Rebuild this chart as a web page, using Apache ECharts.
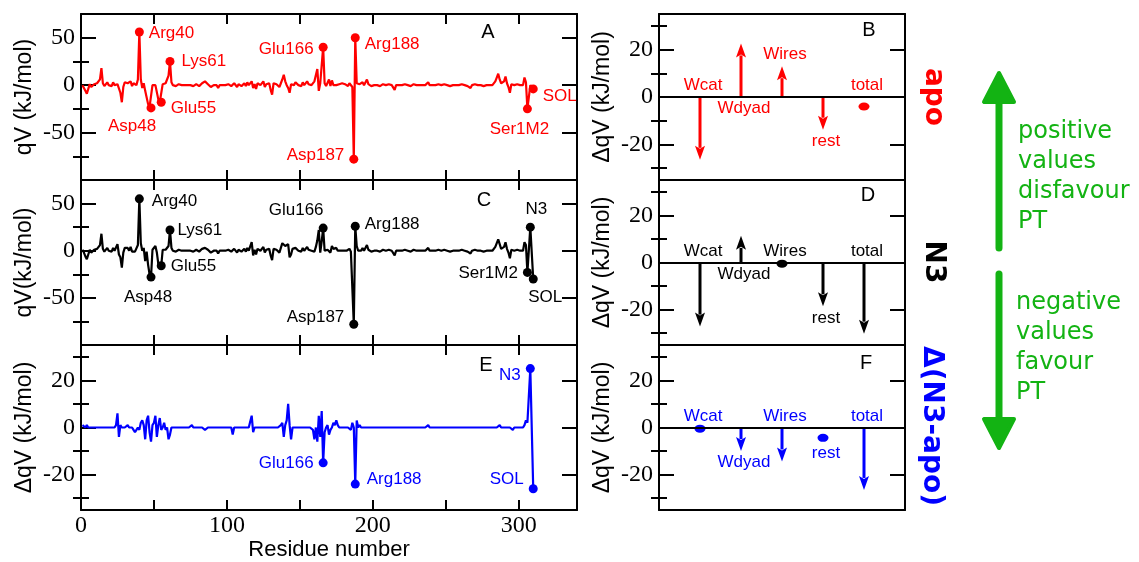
<!DOCTYPE html>
<html>
<head>
<meta charset="utf-8">
<script src="https://cdn.jsdelivr.net/npm/echarts@6/dist/echarts.min.js"></script>
<style>
html, body { margin: 0; padding: 0; background: #fff; }
#main { width: 1139px; height: 562px; }
</style>
</head>
<body>
<div id="main"></div>
<script>
// qV per residue (kJ/mol), residues 1..305 of chain A, then Ser1M2, N3, SOL
const extraResidues = [306, 308, 310];
const apoQV = [
  0,-3,-6,-9,-4,1,-2,0,1,0,  2,0,6,18,2,-1,1,3,0,2,  -1,3,0,-2,1,0,-8,-18,-2,3,
  1,2,0,4,-1,2,1,0,6,56,  6,-3,2,-6,-4,-20,-23,-24,0,1,  0,2,-15,-18,-18,1,0,2,1,10,
  25,3,0,1,-1,0,1,0,0,1,  0,-1,0,1,0,0,-1,0,1,0,  -1,0,2,1,4,3,1,0,-2,-1,
  0,1,0,-3,0,1,0,-1,0,0,  1,0,-1,0,2,0,-2,1,0,-1,  0,2,-1,3,0,-2,4,-3,1,-4,
  2,3,0,-1,4,-2,1,0,2,-5,  -10,2,0,1,3,-2,2,6,11,4,  0,-3,-8,1,2,0,3,1,0,2,
  -1,3,0,2,4,1,3,0,2,4,  4,17,-6,2,3,40,2,-1,0,6,  -1,5,0,2,0,-1,1,0,2,0,
  1,0,-1,2,0,-2,-78,50,2,0,  1,0,3,0,2,6,1,0,-1,0,  0,1,0,0,-1,0,1,0,0,0,
  1,0,0,-1,-5,0,1,0,0,0,  0,1,0,0,0,-1,0,1,0,0,  0,0,1,0,0,0,2,3,0,0,
  0,-1,0,0,1,0,0,0,1,0,  0,0,-1,0,0,1,0,0,0,2,  1,0,0,0,-1,0,-3,0,0,1,
  0,0,0,0,0,-1,-3,0,0,0,  1,0,2,4,8,12,6,2,0,4,  9,2,-2,-8,1,0,0,0,1,0,
  0,-1,0,8,3,
  -25, 0, -4
];
const n3QV = [
  1,-2,-6,-9,-4,1,-2,0,1,0,  2,0,6,18,2,-1,1,3,0,2,  -1,3,0,-1,7,-4,-7,-18,-2,3,
  1,3,0,4,-1,1,-1,-1,6,55,  8,0,3,-11,-1,-15,-25,-28,1,3,  5,-2,-14,-14,-16,1,2,1,1,5,
  22,3,0,1,-1,0,1,0,0,1,  0,-1,0,1,0,1,-1,0,1,0,  -1,0,2,1,3,2,1,0,-2,-1,
  0,1,0,-3,0,1,0,-1,0,0,  1,0,-1,-3,2,0,-2,1,0,-1,  0,2,-1,3,0,-2,9,-5,1,-4,
  2,3,0,-1,4,-2,1,0,2,-5,  -10,2,0,1,3,-2,3,8,7,5,  3,7,-7,-4,2,0,3,1,0,2,
  -1,3,0,2,4,1,3,0,1,-1,  4,11,22,-2,10,24,0,-1,1,3,  -2,5,2,3,3,0,1,0,2,0,
  1,0,-1,2,-1,0,-78,26,5,0,  2,0,3,0,2,6,1,0,-1,0,  0,1,0,0,-1,0,1,0,0,0,
  1,0,0,-1,-5,0,1,0,0,0,  0,1,0,0,0,-1,0,1,0,0,  0,0,1,0,0,0,2,3,0,0,
  0,-1,0,0,1,0,0,0,1,0,  0,0,-1,0,0,1,0,0,0,2,  1,0,0,0,-1,0,-3,0,0,1,
  0,0,0,0,0,-1,-3,0,0,0,  1,0,2,4,8,12,7,2,0,4,  9,2,-2,-8,1,-1,0,0,1,0,
  0,-1,0,9,6,
  -23, 25, -30
];
const deltaQV = [
  1,1,0,1,0,0,0,0,0,0,  0,0,0,0,0,0,0,0,0,0,  0,0,0,1,6,-4,1,0,0,0,
  0,1,0,0,0,-1,-2,-1,0,-1,  2,3,1,-5,3,5,-2,-6,1,2,  5,-4,1,4,-1,0,2,-1,0,-5,
  -3,0,0,0,0,0,0,0,0,0,  0,0,0,0,0,1,0,0,0,0,  0,0,0,0,-1,-1,0,0,0,0,
  0,0,0,0,0,0,0,0,0,0,  0,0,0,-3,0,0,0,0,0,0,  0,0,0,0,0,0,5,-2,0,0,
  0,0,0,0,0,0,0,0,0,0,  0,0,0,0,0,0,1,2,-4,1,  3,10,1,-5,0,0,0,0,0,0,
  0,0,0,0,0,0,0,0,-1,-5,  0,-6,5,-4,7,-15,-2,0,1,-3,  -1,0,2,1,3,1,0,0,0,0,
  0,0,0,0,-1,2,0,-24,3,0,  1,0,0,0,0,0,0,0,0,0,  0,0,0,0,0,0,0,0,0,0,
  0,0,0,0,0,0,0,0,0,0,  0,0,0,0,0,0,0,0,0,0,  0,0,0,0,0,0,0,1,0,0,
  0,0,0,0,0,0,0,0,0,0,  0,0,0,0,0,0,0,0,0,0,  0,0,0,0,0,0,0,0,0,0,
  0,0,0,0,0,0,0,0,0,0,  0,0,0,0,0,0,1,0,0,0,  0,0,0,0,0,-1,0,0,0,0,
  0,0,0,1,3,
  2, 25, -26
];

// named residues and where they sit on the x axis
const namedResidue = { Arg40: 40, Asp48: 48, Glu55: 55, Lys61: 61, Glu166: 166,
  Asp187: 187, Arg188: 188, Ser1M2: 306, N3: 308, SOL: 310 };
const apoNamed = ['Arg40', 'Asp48', 'Glu55', 'Lys61', 'Glu166', 'Asp187', 'Arg188', 'Ser1M2', 'SOL'];
const n3Named = ['Arg40', 'Asp48', 'Glu55', 'Lys61', 'Glu166', 'Asp187', 'Arg188', 'Ser1M2', 'N3', 'SOL'];
const deltaNamed = ['Glu166', 'Arg188', 'N3', 'SOL'];

// decomposition panels (ΔqV, kJ/mol)
const groups = ['Wcat', 'Wdyad', 'Wires', 'rest', 'total'];
const apoDV = [-26.5, 22.6, 13, -13.8, -4];
const n3DV = [-27.2, 11.3, -0.5, -18.6, -30.2];
const deltaDV = [-0.5, -10, -14.4, -4.4, -26.5];

// axis ticks
const residueTicks = [0, 50, 100, 150, 200, 250, 300];
const residueLabels = [0, 100, 200, 300];
const qvMajor = [-50, 0, 50], qvMinor = [-75, -25, 25];
const dqvMajor = [-20, 0, 20], dqvMinor = [-30, -10, 10, 30];

const residues = [];
for (let r = 1; r <= 305; r++) residues.push(r);
residues.push(...extraResidues);

const SANS = 'Liberation Sans', SERIF = 'Liberation Serif';
const RED = '#ff0000', BLUE = '#0000ff', BLACK = '#000000', GREEN = '#13b313';

// label placement for the named dots (style only)
const apoPos = { Arg40: ['right', [0, 1]], Asp48: ['bottom', [-19, 0]], Glu55: ['right', [0, 6]],
  Lys61: ['right', [2, 0]], Glu166: ['left', [0, 2]], Asp187: ['left', [0, -4]],
  Arg188: ['right', [0, 7]], Ser1M2: ['bottom', [-8, 2]], SOL: ['right', [0, 7]] };
const n3Pos = { Arg40: ['right', [3, 2]], Asp48: ['bottom', [-3, 2]], Glu55: ['right', [0, 1]],
  Lys61: ['right', [-2, 0]], Glu166: ['top', [-27, 0]], Asp187: ['left', [0, -7]],
  Arg188: ['right', [0, -2]], Ser1M2: ['left', [0, 1]], N3: ['top', [6, 0]], SOL: ['bottom', [12, 0]] };
const deltaPos = { Glu166: ['left', [0, 0]], Arg188: ['right', [2, -5]], N3: ['left', [0, 7]], SOL: ['left', [0, -9]] };
const groupSide = ['top', 'bottom', 'top', 'bottom', 'top'];

const rows = [{ top: 14, h: 166 }, { top: 180, h: 165 }, { top: 345, h: 165 }];
const grid = [];
rows.forEach(r => {
  grid.push({ left: 81, top: r.top, width: 496, height: r.h });
  grid.push({ left: 659, top: r.top, width: 246, height: r.h });
});

const xAxis = [], yAxis = [];
const lineStyle = { color: '#000', width: 2 };

function addAxes(gi, x, y, yName, xName) {
  const xi = xAxis.length;
  ['bottom', 'top'].forEach(pos => {
    xAxis.push({
      type: 'value', gridIndex: gi, position: pos, min: x.min, max: x.max,
      axisLine: { show: true, onZero: false, lineStyle },
      axisTick: { show: x.ticks.length > 0, inside: true, length: 10, customValues: x.ticks, lineStyle },
      axisLabel: { show: pos === 'bottom' && !!xName, customValues: x.labels, margin: 4,
        fontFamily: SERIF, fontSize: 24, color: '#000' },
      splitLine: { show: false },
      name: pos === 'bottom' && xName ? xName : '', nameLocation: 'middle', nameGap: 26,
      nameTextStyle: { fontFamily: SANS, fontSize: 22, color: '#000' }
    });
  });
  const yi = yAxis.length;
  ['left', 'right'].forEach(pos => {
    yAxis.push({
      type: 'value', gridIndex: gi, position: pos, min: y.min, max: y.max,
      axisLine: { show: true, onZero: false, lineStyle },
      axisTick: { show: true, inside: true, length: 15, customValues: y.major, lineStyle },
      axisLabel: { show: pos === 'left', customValues: y.major, margin: 6,
        fontFamily: SERIF, fontSize: 24, color: '#000' },
      splitLine: { show: false },
      name: pos === 'left' ? yName : '', nameLocation: 'middle', nameRotate: 90, nameGap: 45,
      nameTextStyle: { fontFamily: SANS, fontSize: 23, color: '#000' }
    });
    yAxis.push({
      type: 'value', gridIndex: gi, position: pos, min: y.min, max: y.max,
      axisLine: { show: false },
      axisTick: { show: true, inside: true, length: 8, customValues: y.minor, lineStyle },
      axisLabel: { show: false }, splitLine: { show: false }
    });
  });
  return { xi, yi };
}

const resX = { min: 0, max: 340, ticks: residueTicks, labels: residueLabels };
const grpX = { min: 0, max: 6, ticks: [], labels: [] };
const qvY = { min: -100, max: 75, major: qvMajor, minor: qvMinor };
const dqvY = { min: -35, max: 35, major: dqvMajor, minor: dqvMinor };

const series = [];

function residuePanel(ax, vals, names, pos, color) {
  series.push({
    type: 'line', xAxisIndex: ax.xi, yAxisIndex: ax.yi,
    data: residues.map((r, i) => [r, vals[i]]),
    showSymbol: false, symbol: 'none', lineStyle: { color, width: 2.2 }, z: 3
  });
  series.push({
    type: 'scatter', xAxisIndex: ax.xi, yAxisIndex: ax.yi, symbolSize: 9,
    itemStyle: { color, opacity: 1 },
    data: names.map(n => {
      const r = namedResidue[n];
      return {
        name: n, value: [r, vals[residues.indexOf(r)]],
        label: { position: pos[n][0], offset: pos[n][1] }
      };
    }),
    label: { show: true, formatter: '{b}', distance: 5, color, opacity: 1, fontFamily: SANS, fontSize: 17 },
    z: 4
  });
}

function groupPanel(ax, vals, color) {
  series.push({
    type: 'custom', xAxisIndex: ax.xi, yAxisIndex: ax.yi,
    data: vals.map((v, i) => [i + 1, v]).filter(d => Math.abs(d[1]) >= 6),
    renderItem: (params, api) => {
      const base = api.coord([api.value(0), 0]);
      const tip = api.coord([api.value(0), api.value(1)]);
      const dir = tip[1] < base[1] ? -1 : 1;
      const neck = tip[1] - dir * 14;
      return {
        type: 'group', children: [
          { type: 'line', shape: { x1: base[0], y1: base[1], x2: tip[0], y2: neck + dir * 2 },
            style: { stroke: color, lineWidth: 3 } },
          { type: 'polygon', shape: { points: [[tip[0], tip[1]], [tip[0] - 5, neck],
              [tip[0], neck + dir * 3], [tip[0] + 5, neck]] }, style: { fill: color } }
        ]
      };
    },
    z: 4
  });
  series.push({
    type: 'scatter', xAxisIndex: ax.xi, yAxisIndex: ax.yi, symbol: 'circle', symbolSize: [11, 8],
    itemStyle: { color, opacity: 1 },
    data: vals.map((v, i) => [i + 1, v]).filter(d => Math.abs(d[1]) < 6),
    z: 4
  });
  series.push({
    type: 'scatter', xAxisIndex: ax.xi, yAxisIndex: ax.yi, symbolSize: 0,
    itemStyle: { opacity: 1 },
    data: vals.map((v, i) => {
      const side = groupSide[i];
      const small = Math.abs(v) < 6;
      return {
        name: groups[i],
        value: [i + 1, side === 'top' ? Math.max(0, v) : Math.min(0, v)],
        label: { position: side, distance: small && v !== 0 && side === 'bottom' ? 7 : 3, offset: [3, 0] }
      };
    }),
    label: { show: true, formatter: '{b}', color, opacity: 1, fontFamily: SANS, fontSize: 17 },
    markLine: { silent: true, symbol: 'none', label: { show: false },
      lineStyle: { color: '#000', width: 2, type: 'solid', opacity: 1 }, data: [{ yAxis: 0 }] },
    z: 5
  });
}

const axA = addAxes(0, resX, qvY, 'qV (kJ/mol)', '');
const axB = addAxes(1, grpX, dqvY, 'ΔqV (kJ/mol)', '');
const axC = addAxes(2, resX, qvY, 'qV(kJ/mol)', '');
const axD = addAxes(3, grpX, dqvY, 'ΔqV (kJ/mol)', '');
const axE = addAxes(4, resX, dqvY, 'ΔqV (kJ/mol)', 'Residue number');
const axF = addAxes(5, grpX, dqvY, 'ΔqV (kJ/mol)', '');

residuePanel(axA, apoQV, apoNamed, apoPos, RED);
residuePanel(axC, n3QV, n3Named, n3Pos, BLACK);
residuePanel(axE, deltaQV, deltaNamed, deltaPos, BLUE);
groupPanel(axB, apoDV, RED);
groupPanel(axD, n3DV, BLACK);
groupPanel(axF, deltaDV, BLUE);

function txt(x, y, text, font, fill, rot) {
  return { type: 'text', x, y, rotation: rot || 0, z: 10,
    style: { text, font, fill, align: 'center', verticalAlign: 'middle',
      textAlign: 'center', textVerticalAlign: 'middle' } };
}
const letterFont = '20px "Liberation Sans"';
const sideFont = 'bold 28px "DejaVu Sans"';
const greenFont = '24px "DejaVu Sans"';

const graphic = [
  txt(488, 32, 'A', letterFont, '#000'),
  txt(869, 30, 'B', letterFont, '#000'),
  txt(484, 200, 'C', letterFont, '#000'),
  txt(868, 195, 'D', letterFont, '#000'),
  txt(486, 365, 'E', letterFont, '#000'),
  txt(866, 363, 'F', letterFont, '#000'),
  txt(933, 97, 'apo', sideFont, RED, -Math.PI / 2),
  txt(933, 262, 'N3', sideFont, BLACK, -Math.PI / 2),
  txt(931, 426, 'Δ(N3-apo)', sideFont, BLUE, -Math.PI / 2),
  { type: 'polyline', z: 10, shape: { points: [[999, 248], [999, 98]] },
    style: { stroke: GREEN, lineWidth: 7, lineCap: 'round' } },
  { type: 'polygon', z: 10, shape: { points: [[999, 73], [984, 102], [1014, 102]] },
    style: { fill: GREEN, stroke: GREEN, lineWidth: 4, lineJoin: 'round' } },
  { type: 'polyline', z: 10, shape: { points: [[999, 274], [999, 422]] },
    style: { stroke: GREEN, lineWidth: 7, lineCap: 'round' } },
  { type: 'polygon', z: 10, shape: { points: [[999, 448], [984, 419], [1014, 419]] },
    style: { fill: GREEN, stroke: GREEN, lineWidth: 4, lineJoin: 'round' } },
  { type: 'text', x: 1018, y: 117, z: 10,
    style: { text: 'positive\nvalues\ndisfavour\nPT', font: greenFont, fill: GREEN, lineHeight: 30,
      align: 'left', verticalAlign: 'top', textAlign: 'left', textVerticalAlign: 'top' } },
  { type: 'text', x: 1016, y: 288, z: 10,
    style: { text: 'negative\nvalues\nfavour\nPT', font: greenFont, fill: GREEN, lineHeight: 30,
      align: 'left', verticalAlign: 'top', textAlign: 'left', textVerticalAlign: 'top' } }
];

const chart = echarts.init(document.getElementById('main'));
chart.setOption({
  animation: false,
  backgroundColor: '#fff',
  grid, xAxis, yAxis, series, graphic
});
</script>
</body>
</html>
